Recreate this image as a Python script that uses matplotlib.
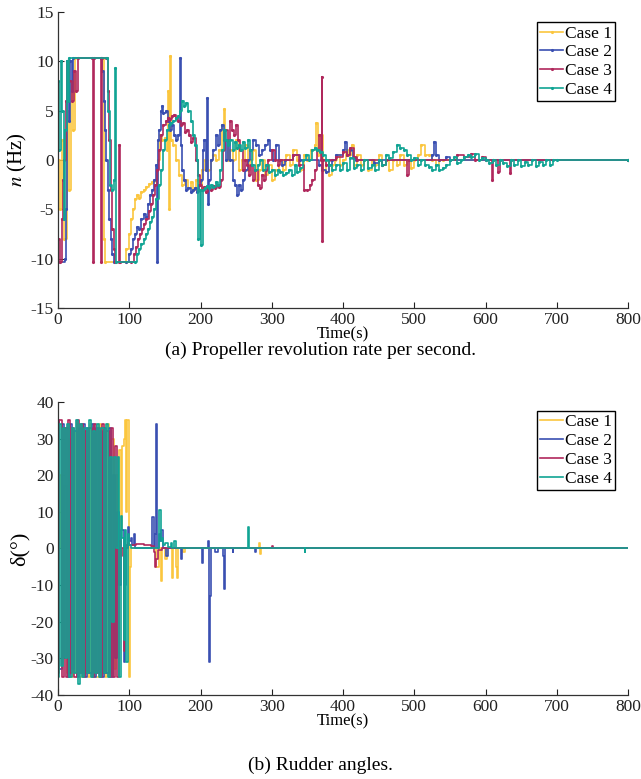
import matplotlib
matplotlib.use('Agg')
from matplotlib import pyplot as plt

plt.rcParams['font.family'] = ['Liberation Serif', 'DejaVu Serif']
plt.rcParams['mathtext.fontset'] = 'stix'
plt.rcParams['axes.unicode_minus'] = False

labels = ['Case 1', 'Case 2', 'Case 3', 'Case 4']
colors = ['#FBC63E', '#3A4FB1', '#B0285C', '#10A494']

# (a) propeller revolution rate n (Hz), step data: time -> value
n1_t = [0, 3, 6, 9, 12, 15, 18, 21, 24, 64, 66, 95, 96, 99, 102, 105, 108, 111, 114, 117, 120, 124, 128, 132,
        136, 140, 143, 146, 150, 153, 155, 156, 157, 158, 162, 166, 170, 174, 178, 182, 186, 190, 194, 198,
        202, 206, 210, 214, 218, 222, 226, 230, 233, 235, 238, 242, 246, 250, 254, 258, 262, 266, 270, 274,
        278, 282, 286, 290, 295, 300, 305, 310, 315, 320, 325, 330, 335, 340, 345, 350, 355, 360, 362, 365,
        368, 372, 376, 380, 384, 388, 392, 396, 400, 404, 408, 412, 416, 420, 425, 430, 435, 440, 445, 450,
        455, 460, 465, 470, 475, 480, 485, 490, 495, 500, 505, 510, 515, 520, 525, 530, 535, 540, 800]
n1_v = [0, -5, 2, -8, 5, -3, 8, 3, 10.3, -8, -10.3, -10.3, -9, -7.5, -6, -5, -4, -3.5, -3.8, -3.2, -3, -2.7, -2.4, -2.2,
        -2, 0, 2.5, 2, 2.2, 1, 7, -5, 10.5, 2, 1.5, 0, -1.5, -2.5, -2, -2.8, -2.2, -3, -2, -3,
        -1, 0, -1, 0, 0.5, 0, 1, 3.5, 5.2, 2, 0, 1, 0, 2, -1, 0, 1.5, -1, 0, 1,
        -2, -1, 0, -1.5, -0.5, -2, -1, 0, -1, 0.5, -0.5, 1, 0, -1, 0.5, 0, 1, 1.5, 3.8, 0.5,
        2.5, -1, 0, -1.5, -0.5, 0, 0.5, -0.5, 0, 1, 0.5, 1.5, -0.5, 0.5, -0.5, 0, -1, 0, -0.5, 0.5,
        -0.5, 0, -1, 0, -0.5, 0.5, -0.5, 0, -0.8, 0, 0.5, 1.5, 0.5, 0.5, 0, -0.5, 0, 0, 0]

n2_t = [0, 10, 11, 13, 15, 17, 19, 21, 60, 62, 64, 66, 68, 70, 72, 74, 76, 78, 96, 99, 102, 105, 108, 111, 114,
        117, 120, 123, 126, 129, 132, 135, 138, 139, 140, 142, 144, 146, 148, 151, 154, 157, 160, 163, 166,
        169, 171, 172, 174, 177, 180, 183, 186, 189, 192, 195, 198, 201, 203, 205, 207, 209, 210, 212, 215,
        218, 221, 224, 227, 230, 233, 236, 239, 242, 245, 248, 251, 254, 257, 260, 263, 266, 270, 274, 278,
        282, 286, 290, 294, 298, 302, 306, 310, 314, 318, 330, 340, 366, 370, 376, 380, 384, 390, 400, 403,
        406, 410, 414, 418, 444, 450, 525, 528, 530, 534, 545, 550, 800]
n2_v = [-10.3, -10, -5, 10, 4, 10, 7, 10.3, 10.3, 9, 6, 3, 0, -3, -6, -8, -9.5, -10.3, -10.3, -9.5, -9, -8, -7.5, -6.8, -7,
        -6, -5.5, -5.8, -4.5, -3.5, -3, -2, -0.5, -10.3, 2, 3, 5, 5.5, 4.8, 5, 4, 3, 3.5, 2.5, 2,
        2.5, 10.3, 1.5, -1, -2, -3, -2.8, -3.2, -3, -2.8, -3.2, -2.5, -2, 1, 2, -1, 6.3, -4.5, -2, 0,
        1, 2.5, 1.5, 3, 3.5, 2, 0, 2, 0, -2, -2.5, -3.5, -2.5, -3, -2, -1, 0, 1, 2, 1.5,
        0.5, 1, 1.5, 2, 1, 0, 1.5, 0, -0.5, 0, 0.5, 0, -0.5, -1, -1.2, -0.5, 0, 0.5, 1, 1.8,
        0.5, 1, 0.2, 0, -0.3, 0, 0.5, 1.8, 0.5, 0, 0.3, 0, 0]

n3_t = [0, 3, 5, 7, 9, 11, 13, 16, 19, 22, 25, 28, 48, 49, 50, 60, 61, 62, 68, 70, 72, 74, 76, 78, 80, 85, 86,
        87, 103, 106, 109, 112, 115, 118, 121, 124, 127, 130, 133, 136, 139, 142, 145, 148, 151, 154, 157,
        160, 163, 166, 169, 172, 175, 178, 181, 184, 187, 190, 193, 196, 199, 202, 205, 208, 211, 214, 217,
        220, 223, 226, 229, 232, 235, 238, 241, 244, 247, 250, 253, 256, 259, 262, 265, 268, 271, 274, 277,
        280, 283, 286, 289, 292, 295, 300, 304, 308, 312, 330, 338, 345, 350, 354, 357, 360, 363, 366, 369,
        370, 371, 372, 376, 380, 390, 400, 405, 410, 415, 420, 455, 460, 490, 492, 560, 570, 580, 585, 595,
        600, 609, 610, 618, 620, 634, 636, 800]
n3_v = [-8, -10.3, -6, -2, 0, 6, 10, 8, 6, 9, 7, 10.3, 10.3, -10.3, 10.3, 10.3, -10.3, 10.3, 10.3, 7, 2, -3, -7, -9, -10.3, -10.3, 1.5,
        -10.3, -10.3, -9.5, -8.8, -8, -7.5, -7, -6.5, -6, -5.2, -4.5, -3.5, -2.5, -1, 1, 2.5, 3.5, 4, 4.3, 4.2,
        4.5, 4.6, 4.3, 4, 3.5, 3.8, 2.8, 3, 2.5, 1.8, 2.2, 0, -1.5, -2.5, -3, -2.7, -3.2, -2.8, -3, -2.6,
        -2.8, -2.5, -2.7, -2, 1, 3, 2, 4, 3, 2.5, 3.5, 2, 1, -1, 0, -0.5, -1.5, -0.5, -2, -1,
        -2.5, -2.8, -1.5, -2, -1, 0, 1, 0, -0.5, 0, 0.5, -0.5, -3, -3, -2.5, -2, -1, 1, 2.5, 0,
        8.4, -8.2, 0, -0.5, 0, 0.3, 0.8, 0.5, 1.2, 0.3, 0, -0.5, 0, -1.5, 0, 0.5, 0.3, 0.6, 0, 0.3,
        0, -2, 0, -1.2, 0, -1.3, 0, 0]

n4_t = [0, 2, 4, 6, 8, 10, 12, 14, 16, 69, 70, 73, 76, 79, 80, 81, 108, 111, 114, 117, 120, 123, 126, 129, 132,
        135, 138, 141, 144, 147, 150, 153, 156, 159, 162, 165, 168, 171, 174, 177, 180, 183, 186, 189, 192,
        195, 197, 199, 201, 203, 206, 209, 212, 215, 218, 221, 224, 227, 230, 233, 236, 239, 242, 245, 248,
        251, 254, 257, 260, 263, 266, 269, 272, 276, 280, 284, 288, 292, 296, 300, 304, 308, 312, 316, 320,
        324, 328, 332, 336, 340, 344, 348, 352, 356, 360, 364, 368, 372, 376, 380, 385, 390, 395, 400, 405,
        410, 415, 420, 425, 430, 435, 440, 445, 450, 455, 460, 465, 470, 475, 480, 485, 490, 495, 500, 505,
        510, 515, 520, 525, 530, 535, 540, 545, 550, 555, 560, 565, 570, 575, 580, 585, 590, 595, 600, 605,
        610, 615, 620, 625, 630, 635, 640, 645, 650, 655, 660, 665, 670, 675, 680, 685, 690, 695, 700, 800]
n4_v = [8, 1, 10, 5, -6, 3, 10, 6, 10.3, 10.3, 5, -2.5, -3, -2, 9.3, -10.3, -10.3, -9.5, -9, -8.5, -8, -7.5, -7, -6.3, -5.8,
        -5, -4, -2.5, -1, 1, 2, 3, 3.5, 3.8, 4, 4.3, 4.5, 5, 6, 5.5, 5.8, 5, 4, 2.5, 1.5,
        0, -8, -3, -8.6, -3, -2.8, -2.6, -2.8, -2.5, -2.7, -2.2, -2.5, -1, 1, 3, 2, 1.5, 2, 1, 1.8,
        1.2, 1.5, 1, 1.8, 1.2, 2, 1, -0.5, -1, -0.5, 0, -1, -0.5, -1.2, -1, -1.5, -1, -1.2, -1.5, -1.3,
        -1, -1.5, -0.5, -1.2, -0.8, 0, 0.5, 0, 1, 1.2, 1, 0.8, 0.5, 0, -0.5, -1, -0.5, -1, -0.3, -1,
        0.2, -0.8, -0.5, -1, 0, -0.8, -0.5, -1, 0, -0.5, 0.5, 0.2, 0.8, 1.5, 1.2, 1, 0.5, 0, 0.2, -0.5,
        0, -0.5, -0.7, -1, -0.5, -1, -0.8, -0.5, 0, 0.3, -0.3, 0, 0.3, 0.5, 0.3, 0.6, 0, 0.2, 0, -0.3,
        0, -0.5, 0, -0.3, -0.6, 0, -0.5, 0, -0.6, -0.2, -0.5, 0, -0.6, -0.2, -0.5, 0, -0.5, 0, 0, 0]

# (b) rudder angle delta (deg)
d1_t = [0, 3, 6, 9, 12, 15, 18, 21, 24, 27, 30, 33, 36, 39, 42, 45, 48, 51, 54, 57, 60, 63, 66, 69, 72, 75, 78,
        81, 84, 86, 88, 90, 92, 94, 96, 97, 99, 101, 103, 135, 137, 140, 142, 144, 146, 150, 153, 160, 162,
        165, 167, 169, 175, 178, 280, 282, 283, 285, 800]
d1_v = [0, 20, -30, 17, -34, 30, -35, 32, -34, 34, -35, 33, -34, 32, -35, 34, -34, 32, -35, 34, -34, 33, -35, 34, -34, 30, -33,
        20, -10, 27, 5, 28, 30, 35, 10, 35, -35, -5, 0, 0, -5, -5, 0, -9, 0, -3, 0, -8, 0,
        -5, -8, 0, -1, 0, 0, 1.5, -1.5, 0, 0]

d2_t = [0, 2, 5, 8, 11, 14, 17, 20, 23, 26, 29, 32, 35, 38, 41, 44, 47, 50, 53, 56, 59, 62, 65, 68, 71, 74, 77,
        80, 83, 86, 89, 92, 94, 96, 98, 100, 102, 104, 106, 108, 130, 132, 134, 136, 138, 139, 141, 143,
        145, 147, 150, 152, 154, 170, 172, 174, 200, 202, 204, 210, 212, 213, 214, 220, 225, 231, 233, 234,
        245, 246, 277, 278, 800]
d2_v = [35, -33, 34, -30, 33, -35, 34, -33, 32, -35, 33, -34, 34, -35, 33, -34, 34, -35, 33, -34, 32, -35, 33, -34, 33, -35, 20,
        -30, 10, -10, 5, -31, -10, 0, 6, 2, 3, 1, 4, 0, 0, 8.5, 0, 4, 34, 0, 4, 2,
        5, 0, 0, -2, 0, 0, -3, 0, 0, -4, 0, 2, -31, -13, 0, -1, 0, -2, -11, 0,
        -1, 0, -1, 0, 0]

d3_t = [0, 2, 5, 8, 11, 14, 17, 20, 23, 26, 29, 32, 35, 38, 41, 44, 47, 50, 53, 56, 59, 62, 65, 68, 71, 74, 77,
        80, 83, 86, 88, 90, 92, 94, 96, 98, 100, 110, 120, 130, 134, 136, 138, 140, 146, 300, 302, 800]
d3_v = [-34, 35, -35, 33, -35, 35, -34, 33, -35, 35, -34, 34, -35, 32, -34, 33, -35, 34, -34, 33, -35, 34, -34, 32, -35, 33, -35,
        28, -35, 2, -2, 0, -28, 0, 1, 1.5, 1, 1.2, 1, 0.8, -1, -5, -3, -0.5, 0, 0.8, 0, 0]

d4_t = [0, 2, 4, 7, 10, 13, 16, 19, 22, 25, 28, 31, 34, 37, 40, 43, 46, 49, 52, 55, 58, 61, 64, 67, 70, 73, 76,
        79, 81, 84, 86, 88, 90, 92, 94, 96, 98, 100, 103, 142, 144, 146, 148, 150, 154, 158, 160, 163, 165,
        267, 268, 345, 346, 347, 800]
d4_v = [-35, 34, -32, 33, -30, 34, -35, 33, -34, 35, -37, 34, -35, 33, -34, 35, -35, 32, -34, 34, -35, 33, -34, 34, -35, 25, -20,
        25, 0, 25, -35, 9, 3, -25, 5, -31, 4, 1, 0, 10.5, 2, 3, 1, 1.5, 0.5, 1.5, 0, 2, 0,
        6, 0, 0, -1, 0, 0]

n_data = [(n1_t, n1_v), (n2_t, n2_v), (n3_t, n3_v), (n4_t, n4_v)]
d_data = [(d1_t, d1_v), (d2_t, d2_v), (d3_t, d3_v), (d4_t, d4_v)]


def style_axes(ax):
    ax.spines['top'].set_visible(False)
    ax.spines['right'].set_visible(False)
    for s in ['left', 'bottom']:
        ax.spines[s].set_color('#333333')
        ax.spines[s].set_linewidth(0.9)
    ax.tick_params(direction='in', length=4, width=0.8, labelsize=12.5, colors='#222222', pad=3)
    ax.set_xlim(0, 800)
    ax.set_xticks(range(0, 801, 100))
    ax.set_xlabel('Time(s)', fontsize=12, labelpad=-1)


def add_legend(ax, top):
    ax.legend(loc='upper right', bbox_to_anchor=(0.977, top), borderaxespad=0, fontsize=12.5,
              fancybox=False, edgecolor='black', framealpha=1, handlelength=1.3, handletextpad=0.1,
              labelspacing=0.15, borderpad=0.2)


fig = plt.figure(figsize=(6.41, 7.79), dpi=100)
ax1 = fig.add_axes([0.0905, 0.6046, 0.8895, 0.38])
ax2 = fig.add_axes([0.0905, 0.1078, 0.8895, 0.3762])

for (t, v), c, lab in zip(n_data, colors, labels):
    ax1.plot(t, v, drawstyle='steps-post', color=c, lw=1.2, marker='.', markersize=2.5, label=lab)
style_axes(ax1)
ax1.set_ylim(-15, 15)
ax1.set_yticks(range(-15, 16, 5))
ax1.set_ylabel(r'$n$ (Hz)', fontsize=15, labelpad=1)
add_legend(ax1, 0.966)

for (t, v), c, lab in zip(d_data, colors, labels):
    ax2.plot(t, v, drawstyle='steps-post', color=c, lw=1.2, label=lab)
style_axes(ax2)
ax2.set_ylim(-40, 40)
ax2.set_yticks(range(-40, 41, 10))
ax2.set_ylabel('δ(°)', fontsize=16, labelpad=1)
add_legend(ax2, 0.97)

fig.text(0.5, 1 - 350 / 779, '(a) Propeller revolution rate per second.', ha='center', va='center', fontsize=14)
fig.text(0.5, 1 - 765 / 779, '(b) Rudder angles.', ha='center', va='center', fontsize=14)

plt.savefig('out.png', dpi=100)
